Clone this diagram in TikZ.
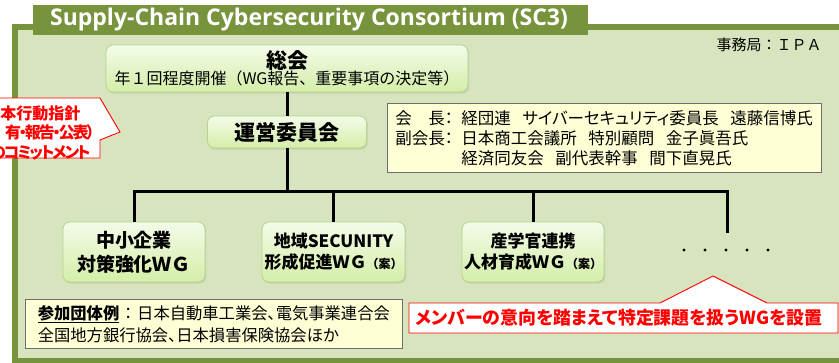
\documentclass[tikz,border=0pt]{standalone}
\usepackage{fontspec}
\setmainfont{Noto Sans CJK JP}
\newfontfamily\jpp{Noto Sans CJK JP}[RawFeature=+palt]
\newfontfamily\jpn{Noto Sans CJK JP}[RawFeature=+palt, LetterSpace=-13]
\newfontfamily\titlefont{Open Sans}
\usetikzlibrary{shadows}

\definecolor{framegrn}{RGB}{119,147,60}
\definecolor{framefill}{RGB}{215,228,189}
\definecolor{boxtop}{RGB}{244,251,233}
\definecolor{boxbot}{RGB}{212,238,168}
\definecolor{boxline}{RGB}{178,214,140}
\definecolor{memofill}{RGB}{255,255,214}
\definecolor{memoline}{RGB}{110,110,110}
\definecolor{alertred}{RGB}{255,0,0}

\tikzset{
  grnbox/.style={draw=boxline, line width=0.8pt, rounded corners=7pt,
    top color=boxtop, bottom color=boxbot, align=center, inner sep=0pt,
    drop shadow={shadow xshift=1.2pt, shadow yshift=-1.5pt, opacity=0.2}},
  memobox/.style={draw=memoline, fill=memofill, line width=0.7pt, align=left,
    inner xsep=8pt, inner ysep=0pt, anchor=north west},
  callout/.style={draw=alertred, fill=white, line width=0.9pt},
  alerttxt/.style={text=alertred, font=\jpp\bfseries},
  tree/.style={line width=3pt}
}

\begin{document}
\begin{tikzpicture}[x=1pt,y=-1pt]
  \newdimen\dotr
  \dotr = 1.7pt
  \useasboundingbox (0,0) rectangle (839,362);
  \clip (0,0) rectangle (839,362);
  \draw[draw=framegrn, fill=framefill, line width=6pt] (15,27) rectangle (870,361);
  \fill[framegrn] (33,5) rectangle (588,35);
  \node[text=white, font=\titlefont\bfseries\fontsize{23}{26}\selectfont] (title) at (309,20) {Supply-Chain Cybersecurity Consortium (SC3)};
  \node[font=\fontsize{15}{18}\selectfont] (office) at (769,45) {事務局：ＩＰＡ};

  \node[grnbox, minimum width=362pt, minimum height=47pt] (soukai) at (287,68.5)
    {{\bfseries\fontsize{21}{24}\selectfont 総会}\\[-1pt]{\fontsize{16}{19}\selectfont 年１回程度開催（WG報告、重要事項の決定等）}};
  \node[grnbox, minimum width=159pt, minimum height=32pt, font=\bfseries\fontsize{21}{24}\selectfont] (unei) at (287,132) {運営委員会};

  \node[memobox, minimum width=415pt, minimum height=69pt, font=\jpp\fontsize{16.5}{20}\selectfont] (officers) at (387,103)
    {\makebox[4em][l]{\makebox[3em][s]{会\hfill 長}：}経団連\hspace{0.7em}サイバーセキュリティ委員長\hspace{0.7em}遠藤信博氏\\
     \makebox[4em][l]{副会長：}日本商工会議所\hspace{0.7em}特別顧問\hspace{0.7em}金子眞吾氏\\
     \hspace*{4em}経済同友会\hspace{0.7em}副代表幹事\hspace{0.7em}間下直晃氏};

  \node[grnbox, minimum width=142pt, minimum height=60pt, font=\bfseries\fontsize{19}{24}\selectfont] (wg1) at (134,252)
    {中小企業\\対策強化ＷＧ};
  \node[grnbox, minimum width=143pt, minimum height=60pt, font=\bfseries\fontsize{17}{21}\selectfont] (wg2) at (333.5,252)
    {地域SECUNITY\\形成促進ＷＧ{\fontsize{12}{14}\selectfont （案）}};
  \node[grnbox, minimum width=142pt, minimum height=60pt, font=\bfseries\fontsize{17}{21}\selectfont] (wg3) at (533,252)
    {産学官連携\\人材育成ＷＧ{\fontsize{12}{14}\selectfont （案）}};

  \coordinate (fork) at (287,191);
  \coordinate (more) at (727,233);
  \draw[tree] (soukai.south) -- (unei.north);
  \draw[tree] (unei.south) -- (fork);
  \draw[tree] (wg1.north) |- (fork) -| (more);
  \draw[tree] (wg2.north) -- (wg2.north |- fork);
  \draw[tree] (wg3.north) -- (wg3.north |- fork);
  \foreach \x in {684,705,...,768} { \fill (\x,250) circle (\dotr); }

  \node[memobox, minimum width=377pt, minimum height=49pt, inner xsep=10pt, font=\jpp\fontsize{16.3}{22}\selectfont] (members) at (25,299)
    {{\bfseries\underline{参加団体例}}\makebox[1.1em]{：}日本自動車工業会、電気事業連合会\\
     全国地方銀行協会、日本損害保険協会ほか};

  \filldraw[callout] (409,303) -- (660,303) -- (713,276) -- (767,303) -- (838,303) -- (838,333) -- (409,333) -- cycle;
  \node[alerttxt, font=\jpp\bfseries\fontsize{17.9}{21}\selectfont] (wgnote) at (619,318) {メンバーの意向を踏まえて特定課題を扱うWGを設置};

  \filldraw[callout] (-5,98) -- (100,98) -- (120,132) -- (100,140) -- (100,158) -- (-5,158) -- cycle;
  \node[alerttxt, font=\jpn\bfseries\fontsize{16}{19.5}\selectfont, align=right, anchor=north east] (pledge) at (98,102)
    {{\jpp 本行動指針}\hspace*{14pt}\\有・報告・公表）\\のコミットメント\hspace*{4pt}};
\end{tikzpicture}
\end{document}
